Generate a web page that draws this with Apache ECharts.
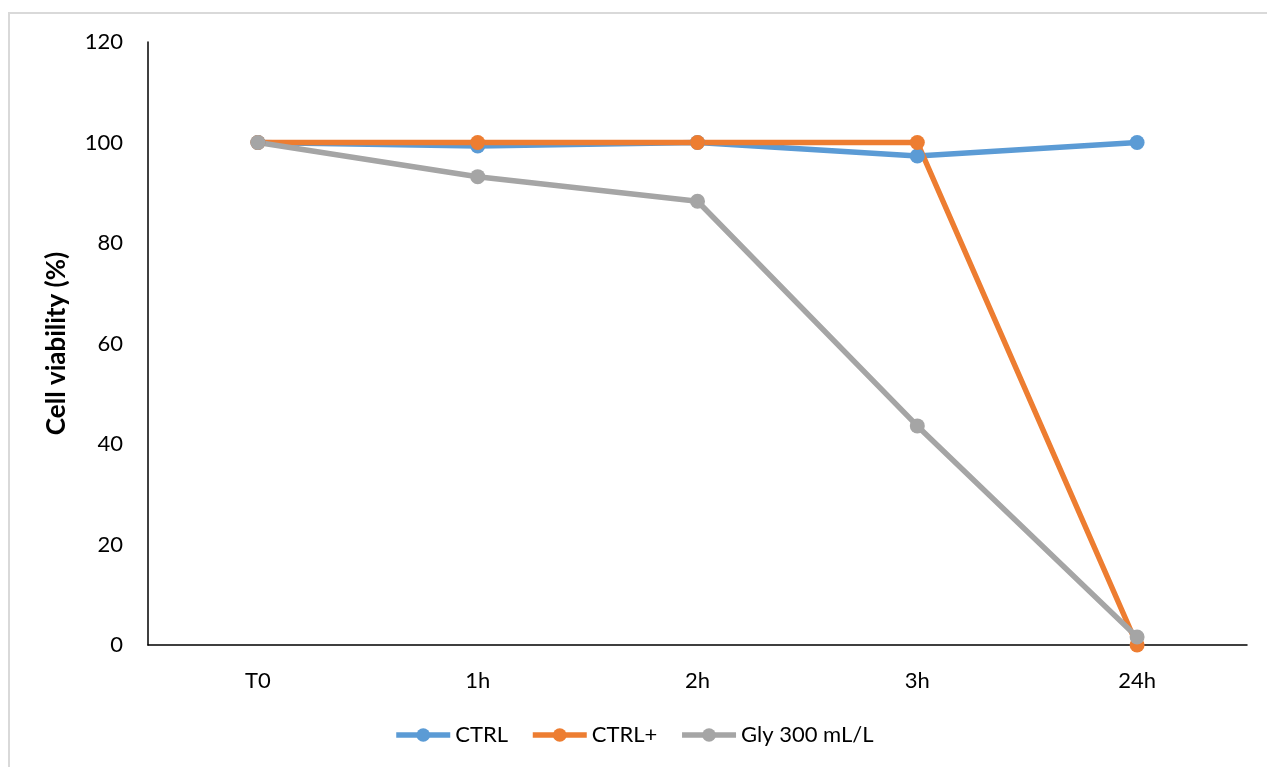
<!DOCTYPE html>
<html>
<head>
<meta charset="utf-8">
<script src="https://cdn.jsdelivr.net/npm/echarts@6/dist/echarts.min.js"></script>
<style>
  html, body { margin: 0; padding: 0; background: #fff; }
  #frame { position: absolute; left: 8px; top: 12px; width: 1259px; height: 755px;
           border-left: 2px solid #d9d9d9; border-top: 2px solid #d9d9d9; box-sizing: border-box; }
  #chart { position: absolute; left: 0; top: 0; width: 1267px; height: 767px; }
</style>
</head>
<body>
<div id="frame"></div>
<div id="chart"></div>
<script>
// Time points and viability (%) per treatment
const timePoints = ['T0', '1h', '2h', '3h', '24h'];
const ctrl = [100, 99.3, 100, 97.3, 100];
const ctrlPlus = [100, 100, 100, 100, 0];
const gly300 = [100, 93.2, 88.3, 43.6, 1.6];
const seriesNames = ['CTRL', 'CTRL+', 'Gly 300 mL/L'];
const seriesColors = ['#5b9bd5', '#ed7d31', '#a5a5a5'];

const font = 'Lato, "Open Sans", sans-serif';

function lineSeries(name, data, color) {
  return {
    name: name,
    type: 'line',
    data: data,
    symbol: 'circle',
    symbolSize: 15,
    lineStyle: { width: 5.5, color: color },
    itemStyle: { color: color },
    emphasis: { disabled: true },
    animation: false
  };
}

const chart = echarts.init(document.getElementById('chart'), null, { renderer: 'canvas' });
chart.setOption({
  backgroundColor: 'transparent',
  textStyle: { fontFamily: font },
  grid: { left: 148, right: 20, top: 42, bottom: 122, containLabel: false },
  legend: {
    bottom: 16,
    left: 'center',
    itemWidth: 54,
    itemHeight: 17,
    itemGap: 22,
    lineStyle: { width: 5.5 },
    textStyle: { fontFamily: font, fontSize: 22, color: '#000' },
    data: seriesNames
  },
  xAxis: {
    type: 'category',
    data: timePoints,
    boundaryGap: true,
    axisLine: { lineStyle: { color: '#000', width: 1.5 } },
    axisTick: { show: false },
    axisLabel: { fontFamily: font, fontSize: 22, color: '#000', margin: 25 },
    splitLine: { show: false }
  },
  yAxis: {
    type: 'value',
    min: 0,
    max: 120,
    interval: 20,
    name: 'Cell viability (%)',
    nameLocation: 'middle',
    nameGap: 78,
    nameTextStyle: { fontFamily: font, fontSize: 26, fontWeight: 'bold', color: '#000' },
    axisLine: { show: true, lineStyle: { color: '#000', width: 1.5 } },
    axisTick: { show: false },
    axisLabel: { fontFamily: font, fontSize: 22, color: '#000', margin: 25 },
    splitLine: { show: false }
  },
  series: [
    lineSeries(seriesNames[0], ctrl, seriesColors[0]),
    lineSeries(seriesNames[1], ctrlPlus, seriesColors[1]),
    lineSeries(seriesNames[2], gly300, seriesColors[2])
  ]
});
</script>
</body>
</html>
